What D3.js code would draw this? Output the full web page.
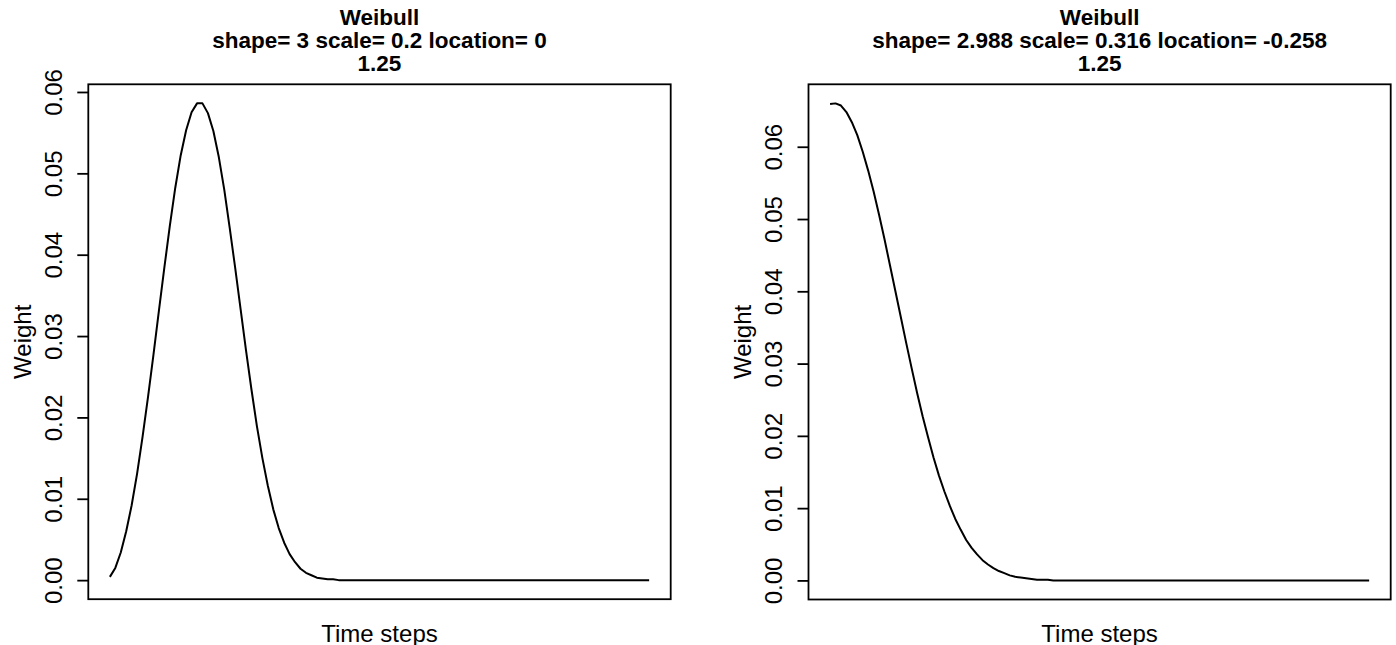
<!DOCTYPE html>
<html>
<head>
<meta charset="utf-8">
<script src="https://cdn.jsdelivr.net/npm/d3@7"></script>
<style>
  html, body { margin: 0; padding: 0; background: #ffffff; }
  svg { display: block; }
  text { font-family: "Liberation Sans", Arial, Helvetica, sans-serif; fill: #000; }
</style>
</head>
<body>
<svg id="chart" width="1396" height="645"></svg>
<script>
// ---- Data ----
const leftTitle = ["Weibull", "shape= 3 scale= 0.2 location= 0", "1.25"];
const rightTitle = ["Weibull", "shape= 2.988 scale= 0.316 location= -0.258", "1.25"];

const leftWeights = [
  0.0004, 0.0015, 0.0034, 0.0060, 0.0092, 0.0131, 0.0176, 0.0225, 0.0277, 0.0331,
  0.0384, 0.0435, 0.0482, 0.0522, 0.0553, 0.0575, 0.0586, 0.0586, 0.0574, 0.0552,
  0.0520, 0.0480, 0.0433, 0.0384, 0.0333, 0.0282, 0.0234, 0.0189, 0.0150, 0.0116,
  0.0087, 0.0064, 0.0046, 0.0032, 0.0022, 0.0014, 0.0009, 0.0006, 0.0003, 0.0002,
  0.0001, 0.0001, 0, 0, 0, 0, 0, 0, 0, 0,
  0, 0, 0, 0, 0, 0, 0, 0, 0, 0,
  0, 0, 0, 0, 0, 0, 0, 0, 0, 0,
  0, 0, 0, 0, 0, 0, 0, 0, 0, 0,
  0, 0, 0, 0, 0, 0, 0, 0, 0, 0,
  0, 0, 0, 0, 0, 0, 0, 0, 0, 0
];

const rightWeights = [
  0.0659, 0.0660, 0.0657, 0.0648, 0.0634, 0.0616, 0.0593, 0.0567, 0.0538, 0.0506,
  0.0472, 0.0436, 0.0400, 0.0364, 0.0328, 0.0293, 0.0259, 0.0227, 0.0198, 0.0170,
  0.0145, 0.0123, 0.0103, 0.0085, 0.0070, 0.0056, 0.0045, 0.0036, 0.0028, 0.0022,
  0.0017, 0.0013, 0.0010, 0.0007, 0.0005, 0.0004, 0.0003, 0.0002, 0.0001, 0.0001,
  0.0001, 0, 0, 0, 0, 0, 0, 0, 0, 0,
  0, 0, 0, 0, 0, 0, 0, 0, 0, 0,
  0, 0, 0, 0, 0, 0, 0, 0, 0, 0,
  0, 0, 0, 0, 0, 0, 0, 0, 0, 0,
  0, 0, 0, 0, 0, 0, 0, 0, 0, 0,
  0, 0, 0, 0, 0, 0, 0, 0, 0, 0
];

const yTicks = [0, 0.01, 0.02, 0.03, 0.04, 0.05, 0.06];
const yTickLabels = ["0.00", "0.01", "0.02", "0.03", "0.04", "0.05", "0.06"];
const xLabel = "Time steps";
const yLabel = "Weight";

// ---- Drawing ----
const svg = d3.select("#chart");
svg.append("rect").attr("width", 1396).attr("height", 645).attr("fill", "#fff");

function drawPanel(box, titles, weights) {
  const g = svg.append("g");
  const n = weights.length;
  const xr = n - 1;
  const x = d3.scaleLinear()
    .domain([1 - 0.04 * xr, n + 0.04 * xr])
    .range([box.x0, box.x1]);
  const yMin = d3.min(weights), yMax = d3.max(weights);
  const yr = yMax - yMin;
  const y = d3.scaleLinear()
    .domain([yMin - 0.04 * yr, yMax + 0.04 * yr])
    .range([box.y1, box.y0]);

  // curve
  const line = d3.line()
    .x((d, i) => x(i + 1))
    .y(d => y(d));
  g.append("path")
    .datum(weights)
    .attr("d", line)
    .attr("fill", "none")
    .attr("stroke", "#000")
    .attr("stroke-width", 2)
    .attr("stroke-linejoin", "round");

  // box
  g.append("rect")
    .attr("x", box.x0).attr("y", box.y0)
    .attr("width", box.x1 - box.x0).attr("height", box.y1 - box.y0)
    .attr("fill", "none").attr("stroke", "#000").attr("stroke-width", 1.8);

  // y axis
  const yAxis = d3.axisLeft(y)
    .tickValues(yTicks)
    .tickSize(11)
    .tickFormat((d, i) => yTickLabels[i]);
  const ag = g.append("g")
    .attr("transform", `translate(${box.x0},0)`)
    .call(yAxis);
  ag.select(".domain").attr("stroke", "none");
  ag.selectAll(".tick line").attr("stroke", "#000").attr("stroke-width", 1.8);
  ag.selectAll(".tick text")
    .attr("x", null).attr("dy", null)
    .attr("text-anchor", "middle")
    .attr("dominant-baseline", "central")
    .attr("font-size", 24)
    .attr("font-family", '"Liberation Sans", Arial, sans-serif')
    .attr("transform", "translate(-35,0) rotate(-90)");

  const cx = (box.x0 + box.x1) / 2;
  // titles
  const baselines = [25, 48, 71];
  titles.forEach((t, i) => {
    g.append("text")
      .attr("x", cx).attr("y", baselines[i])
      .attr("text-anchor", "middle")
      .attr("font-weight", "bold")
      .attr("font-size", 22.5)
      .text(t);
  });

  // axis labels
  g.append("text")
    .attr("x", cx).attr("y", 633)
    .attr("text-anchor", "middle")
    .attr("dominant-baseline", "central")
    .attr("font-size", 24)
    .text(xLabel);
  g.append("text")
    .attr("transform", `translate(${box.x0 - 66},${(box.y0 + box.y1) / 2}) rotate(-90)`)
    .attr("text-anchor", "middle")
    .attr("dominant-baseline", "central")
    .attr("font-size", 24)
    .text(yLabel);
}

drawPanel({ x0: 88.3, x1: 670.7, y0: 84.3, y1: 599.2 }, leftTitle, leftWeights);
drawPanel({ x0: 808.5, x1: 1390.7, y0: 84.3, y1: 599.5 }, rightTitle, rightWeights);
</script>
</body>
</html>
